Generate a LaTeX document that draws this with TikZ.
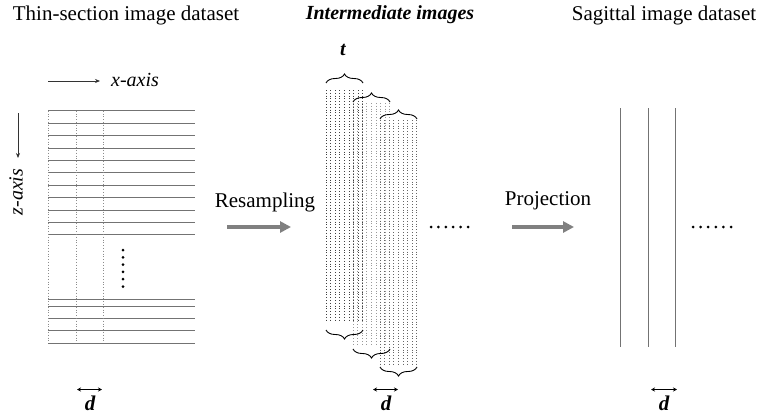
\documentclass[tikz,border=0pt]{standalone}
\usepackage{fontspec}
\setmainfont{Liberation Serif}
\usetikzlibrary{arrows.meta,decorations.pathreplacing}

\tikzset{
  rotulo/.style={font=\fontsize{21}{25}\selectfont, inner sep=0pt},
  eixo/.style={-{Stealth[length=5pt,width=4pt]}, black!80, line width=0.7pt},
  fatia/.style={black!55, line width=0.8pt},
  pontilhado/.style={dotted, line width=0.8pt},
  seta grossa/.style={-{Triangle[length=11pt,width=11pt]}, black!50, line width=4pt},
  chave/.style={decorate, decoration={brace, amplitude=9pt}, line width=0.9pt},
  distancia/.style={{Stealth[length=4pt,width=4pt]}-{Stealth[length=4pt,width=4pt]}, line width=0.8pt},
  ponto/.style={circle, fill=black, inner sep=0pt, minimum size=3pt}
}

\begin{document}
\begin{tikzpicture}[x=1pt, y=1pt]
\useasboundingbox (0,0) rectangle (759,416);

% titulos
\node [rotulo](tituloFino) at (126,401){Thin-section image dataset};
\node [rotulo, font=\fontsize{20}{24}\selectfont\bfseries\itshape](tituloInter) at (390,401){Intermediate images};
\node [rotulo](tituloSag) at (664,401){Sagittal image dataset};

% eixos
\coordinate (xIni) at (48,335);
\coordinate (xFim) at (100,335);
\draw [eixo] (xIni) -- (xFim);
\node [rotulo, anchor=west, font=\fontsize{20}{24}\selectfont\itshape](xEixo) at (111,336){x-axis};
\coordinate (zIni) at (18,303);
\coordinate (zFim) at (18,258);
\draw [eixo] (zIni) -- (zFim);
\node [rotulo, rotate=90, font=\fontsize{20}{24}\selectfont\itshape](zEixo) at (16,224){z-axis};

% fatias finas
\foreach \k in {0,...,10}
  \draw [fatia] (48,305.3-12.4*\k) -- (195,305.3-12.4*\k);
\foreach \yy in {116.7,109.3,97.3,85.3,73}
  \draw [fatia] (48,\yy) -- (195,\yy);
\foreach \xx in {48.3,76.7,103.7}
  \draw [pontilhado, black!45] (\xx,305.3) -- (\xx,73);
\foreach \k in {0,...,5}
  \node [ponto](pv\k) at (123,166-7.3*\k){};

% reamostragem
\node [rotulo](textoReam) at (265,214){Resampling};
\coordinate (reamIni) at (227,189);
\coordinate (reamFim) at (291,189);
\draw [seta grossa] (reamIni) -- (reamFim);

% imagens intermediarias
\foreach \k in {0,...,8}
  \draw [pontilhado, black!75] (326+4.6*\k,326) -- (326+4.6*\k,94);
\foreach \k in {0,...,8}
  \draw [pontilhado, black!40] (353+4.6*\k,313) -- (353+4.6*\k,71);
\foreach \k in {0,...,8}
  \draw [pontilhado, black!60] (380+4.6*\k,296) -- (380+4.6*\k,51);
\draw [chave] (326,333) -- (363,333);
\draw [chave] (353,314) -- (390,314);
\draw [chave] (380,297) -- (417,297);
\draw [chave] (363,86) -- (326,86);
\draw [chave] (390,67) -- (353,67);
\draw [chave] (417,49) -- (380,49);
\node [rotulo, font=\fontsize{20}{24}\selectfont\bfseries\itshape](textoT) at (343,366){t};
\foreach \k in {0,...,5}
  \node [ponto](pm\k) at (431+7.4*\k,189){};

% projecao
\node [rotulo](textoProj) at (548,215){Projection};
\coordinate (projIni) at (512,189);
\coordinate (projFim) at (574,189);
\draw [seta grossa] (projIni) -- (projFim);

% imagens sagitais
\foreach \xx in {620.7,648.3,675.7}
  \draw [fatia] (\xx,308) -- (\xx,69);
\foreach \k in {0,...,5}
  \node [ponto](ps\k) at (693+7.6*\k,189){};

% distancias d
\coordinate (d1a) at (77,26.5);
\coordinate (d1b) at (102,26.5);
\draw [distancia] (d1a) -- (d1b);
\node [rotulo, font=\fontsize{21}{25}\selectfont\bfseries\itshape](textoD1) at (90,13){d};
\coordinate (d2a) at (373,26.5);
\coordinate (d2b) at (398,26.5);
\draw [distancia] (d2a) -- (d2b);
\node [rotulo, font=\fontsize{21}{25}\selectfont\bfseries\itshape](textoD2) at (386,13){d};
\coordinate (d3a) at (651,26.5);
\coordinate (d3b) at (677,26.5);
\draw [distancia] (d3a) -- (d3b);
\node [rotulo, font=\fontsize{21}{25}\selectfont\bfseries\itshape](textoD3) at (664,13){d};

\end{tikzpicture}
\end{document}
